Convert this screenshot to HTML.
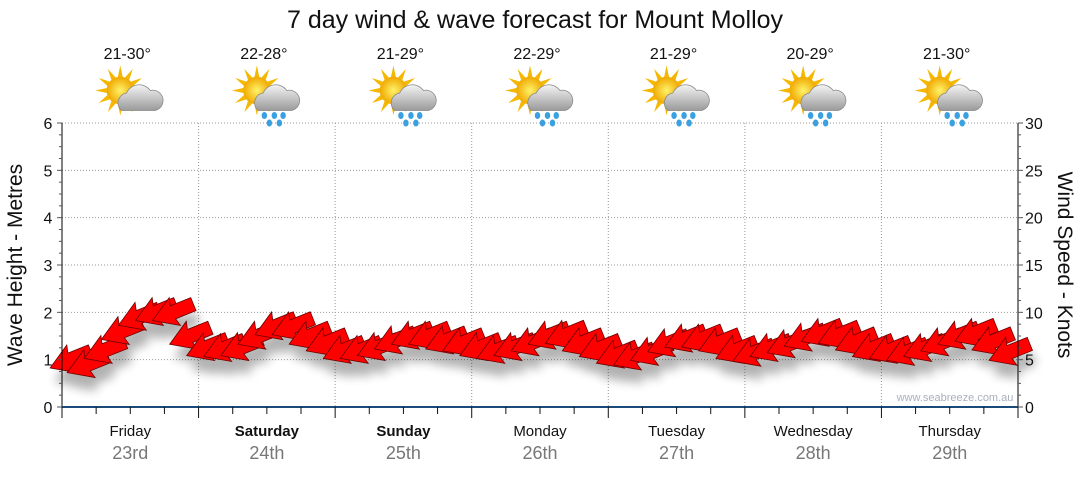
<!DOCTYPE html>
<html><head><meta charset="utf-8"><style>
body{margin:0;background:#fff;width:1080px;height:475px;overflow:hidden;font-family:"Liberation Sans",sans-serif}
</style></head><body>
<svg id="c" width="1080" height="475" font-family="Liberation Sans, sans-serif">
<defs>
<filter id="sh" x="-50%" y="-50%" width="200%" height="200%"><feGaussianBlur stdDeviation="5"/></filter>
<radialGradient id="sun" cx="50%" cy="50%" r="50%"><stop offset="0" stop-color="#fff36a"/><stop offset="1" stop-color="#f0a800"/></radialGradient>
<linearGradient id="cloud" x1="0" y1="0" x2="0" y2="1"><stop offset="0" stop-color="#f4f4f4"/><stop offset="1" stop-color="#9a9a9a"/></linearGradient>
</defs>
<text x="535" y="28" text-anchor="middle" font-size="25" fill="#111">7 day wind &amp; wave forecast for Mount Molloy</text>
<g id="grid"></g><g id="shadows" filter="url(#sh)" opacity="0.3"></g><g id="arrows"></g><g id="axes"></g><g id="top"></g>
<text x="955" y="401" text-anchor="middle" font-size="11" fill="#a8b0bc">www.seabreeze.com.au</text>
<text transform="translate(22,265) rotate(-90)" text-anchor="middle" font-size="21" fill="#111">Wave Height - Metres</text>
<text transform="translate(1058,265) rotate(90)" text-anchor="middle" font-size="21" fill="#111">Wind Speed - Knots</text>
</svg>
<script>
const days=["Friday","Saturday","Sunday","Monday","Tuesday","Wednesday","Thursday"];
const dates=["23rd","24th","25th","26th","27th","28th","29th"];
const temps=["21-30°","22-28°","21-29°","22-29°","21-29°","20-29°","21-30°"];
const rainy=[false,true,true,true,true,true,true];
const boldDays=[false,true,true,false,false,false,false];
const waveTicks=[0,1,2,3,4,5,6];
const windTicks=[0,5,10,15,20,25,30];
const windSpeed=[5,4.5,6,8,9.5,10,10,7.5, 6.3,6.2,6.3,7.5,8.5,8.5,7.5,6.8, 6,6,6.3,7,7.5,7.5,7,6.8, 6.3,6,6.3,6.8,7.5,7.6,6.8,6.2, 5.5,5.3,5.8,6.7,7.2,7.2,6.8,6, 5.7,6.2,6.6,7.3,7.8,7.6,6.9,6.2, 6,5.8,6.2,6.8,7.5,7.8,6.9,5.8];
const X0=62,X1=1018,Y0=407,Y1=123;
const NS="http://www.w3.org/2000/svg";
const dayW=(X1-X0)/7;
const yW=v=>Y0-v/6*(Y0-Y1);
const yK=v=>Y0-v/30*(Y0-Y1);
const xT=i=>X0+(i+0.5)*dayW/8;
function mk(p,t,a){const e=document.createElementNS(NS,t);for(const k in a)e.setAttribute(k,a[k]);document.getElementById(p).appendChild(e);return e;}
waveTicks.forEach(v=>{if(v>0){const l=mk('grid','line',{x1:X0,x2:X1,y1:yW(v),y2:yW(v),stroke:'#999','stroke-dasharray':'1,2'});

}});
for(let d=1;d<7;d++){const l=mk('grid','line',{x1:X0+d*dayW,x2:X0+d*dayW,y1:Y1,y2:Y0,stroke:'#999','stroke-dasharray':'1,2'});

}
mk('axes','line',{x1:X0,x2:X0,y1:Y1,y2:Y0,stroke:'#000'});
mk('axes','line',{x1:X1,x2:X1,y1:Y1,y2:Y0,stroke:'#000'});
mk('axes','line',{x1:X0,x2:X1,y1:Y0,y2:Y0,stroke:'#1a4a7a','stroke-width':2});
for(let i=0;i<=24;i++){const y=yW(i/4);
mk('axes','line',{x1:X0-(i%4?3:5),x2:X0,y1:y,y2:y,stroke:'#555'});
const y2=yK(i*30/24);mk('axes','line',{x1:X1,x2:X1+(i%4?3:5),y1:y2,y2:y2,stroke:'#555'});}
waveTicks.forEach(v=>{const t=mk('axes','text',{x:48,y:yW(v)+6,'text-anchor':'middle','font-size':16,fill:'#111'});t.textContent=v;

});
windTicks.forEach(v=>{const t=mk('axes','text',{x:1025,y:yK(v)+6,'font-size':16,fill:'#111'});t.textContent=v;

});
for(let i=0;i<=28;i++){const x=X0+i*dayW/4;mk('axes','line',{x1:x,x2:x,y1:Y0,y2:Y0+(i%4?7:11),stroke:'#111'});}
days.forEach((d,i)=>{const cx=X0+(i+0.5)*dayW;
const t=mk('axes','text',{x:cx,y:436,'text-anchor':'middle','font-size':15,fill:'#111','font-weight':boldDays[i]?'bold':'normal'});t.textContent=d;


const t2=mk('axes','text',{x:cx,y:459,'text-anchor':'middle','font-size':18,fill:'#777'});t2.textContent=dates[i];


const t3=mk('top','text',{x:cx-3,y:59,'text-anchor':'middle','font-size':16,fill:'#111'});t3.textContent=temps[i];


const g=mk('top','g',{transform:`translate(${cx},98) scale(1.25)`});


for(let k=0;k<12;k++){const a=k*30*Math.PI/180;const p=document.createElementNS(NS,'polygon');
p.setAttribute('points',`${-8+Math.cos(a)*20},${-6+Math.sin(a)*20} ${-8+Math.cos(a+0.18)*11},${-6+Math.sin(a+0.18)*11} ${-8+Math.cos(a-0.18)*11},${-6+Math.sin(a-0.18)*11}`);p.setAttribute('fill','#f5b800');g.appendChild(p);}
const s=document.createElementNS(NS,'circle');s.setAttribute('cx',-8);s.setAttribute('cy',-6);s.setAttribute('r',11);s.setAttribute('fill','url(#sun)');g.appendChild(s);
const c=document.createElementNS(NS,'path');c.setAttribute('d','M-7,10 a8,8 0 0 1 4,-14 a11,11 0 0 1 19,-2 a8,8 0 0 1 4,16 z');c.setAttribute('fill','url(#cloud)');c.setAttribute('stroke','#888');c.setAttribute('stroke-width','0.6');g.appendChild(c);
if(rainy[i]){[[-2,14],[6,14],[13,14],[2,20],[10,20]].forEach(q=>{const r=document.createElementNS(NS,'ellipse');r.setAttribute('cx',q[0]);r.setAttribute('cy',q[1]);r.setAttribute('rx',2.2);r.setAttribute('ry',2.8);r.setAttribute('fill','#3aa0e0');g.appendChild(r);});}
});
const arrowPts="-22,-7 0,-7 -2,-15 22,0 -2,15 0,7 -22,7";
windSpeed.forEach((v,i)=>{const x=xT(i),y=yK(v);
mk('shadows','polygon',{points:arrowPts,transform:`translate(${x+4},${y+14}) rotate(158)`,fill:'#000'});
const a=mk('arrows','polygon',{points:arrowPts,transform:`translate(${x},${y}) rotate(158)`,fill:'#ff0000',stroke:'#6a0000','stroke-width':0.8});

});
</script>
</body></html>
